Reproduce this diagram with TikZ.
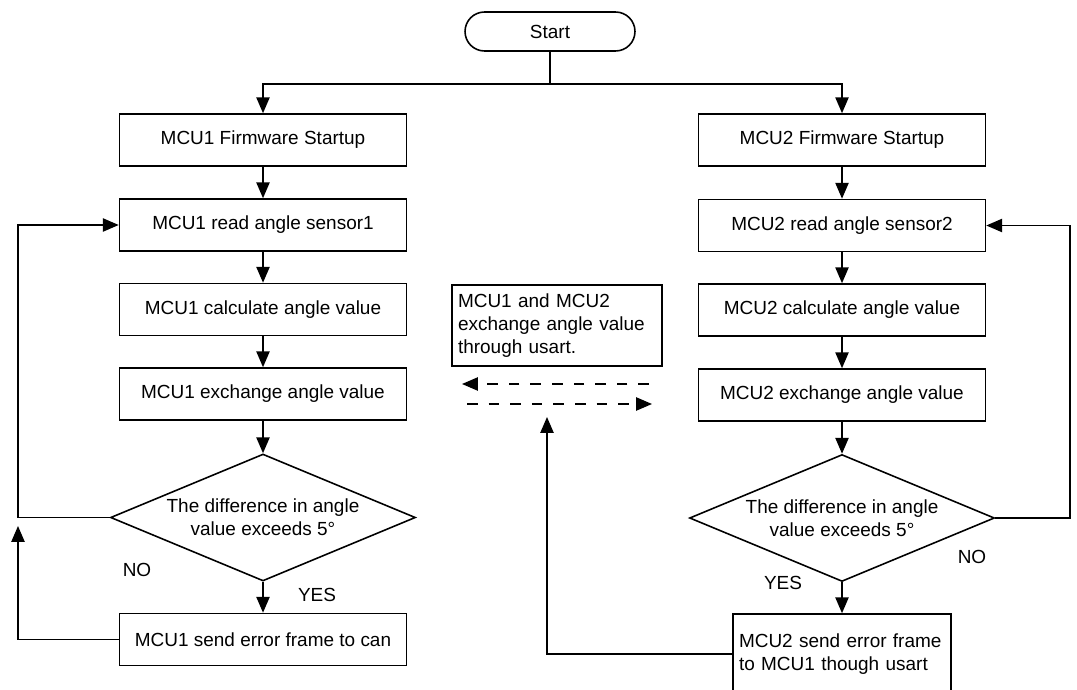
\documentclass[tikz,border=0pt]{standalone}
\usepackage{fontspec}
\setmainfont{Liberation Sans}
\usetikzlibrary{arrows.meta,shapes.geometric}

\begin{document}
\begin{tikzpicture}[x=0.02cm,y=-0.02cm,line width=0.9pt,
  font=\fontsize{10.8}{13}\selectfont,
  >={Triangle[length=9pt,width=7.5pt]},
  stepbox/.style={draw,rectangle,minimum width=5.74cm,minimum height=1.04cm,inner sep=0pt},
  testbox/.style={draw,diamond,aspect=2.4,inner sep=0pt,minimum width=6.1cm,minimum height=2.54cm,align=center},
  notebox/.style={draw,rectangle,align=left,inner xsep=0.12cm},
  usart/.style={->,dash pattern=on 6pt off 6.3pt}]
\def\colL{263}
\def\colR{842}
\useasboundingbox (0,0) rectangle (1077,689);
\clip (0,0) rectangle (1077,689);

\node[draw,rounded corners=0.39cm,minimum width=3.4cm,minimum height=0.78cm] (start) at (550,31.5) {Start};
\coordinate (split) at (550,84);

% MCU1 side
\node[stepbox] (L1) at (\colL,140) {MCU1 Firmware Startup};
\node[stepbox] (L2) at (\colL,225) {MCU1 read angle sensor1};
\node[stepbox] (L3) at (\colL,309.5) {MCU1 calculate angle value};
\node[stepbox] (L4) at (\colL,394) {MCU1 exchange angle value};
\node[testbox] (Ldia) at (\colL,517.5) {The difference in angle\\value exceeds 5°};
\node[stepbox] (L5) at (\colL,639.5) {MCU1 send error frame to can};
\coordinate (lup) at (18,517.5);
\coordinate (lend) at (18,526);
\node (nol) at (137,570) {NO};
\node (yesl) at (317,595) {YES};

% MCU2 side
\node[stepbox] (R1) at (\colR,140) {MCU2 Firmware Startup};
\node[stepbox] (R2) at (\colR,225.5) {MCU2 read angle sensor2};
\node[stepbox] (R3) at (\colR,310) {MCU2 calculate angle value};
\node[stepbox] (R4) at (\colR,395) {MCU2 exchange angle value};
\node[testbox] (Rdia) at (\colR,518) {The difference in angle\\value exceeds 5°};
\node[notebox,text width=4.12cm,minimum height=1.6cm] (R5) at (\colR,654) {MCU2 send error frame\\to MCU1 though usart};
\coordinate (rup) at (1070,518);
\coordinate (mend) at (547,417);
\node (nor) at (972,557) {NO};
\node (yesr) at (783,583) {YES};

% usart exchange
\node[notebox,text width=3.96cm,inner xsep=0.12cm,minimum height=1.62cm] (note) at (557,325.5) {MCU1 and MCU2\\exchange angle value\\through usart.};
\coordinate (ua) at (649,384);
\coordinate (ub) at (462,384);
\coordinate (uc) at (467,404);
\coordinate (ud) at (652,404);

\draw (start) -- (split);
\draw[->] (split) -| (L1.north);
\draw[->] (split) -| (R1.north);

\draw[->] (L1) -- (L2);
\draw[->] (L2) -- (L3);
\draw[->] (L3) -- (L4);
\draw[->] (L4) -- (Ldia);
\draw[->] (Ldia) -- (L5);
\draw[->] (Ldia.west) -- (lup) |- (L2.west);
\draw[->] (L5.west) -| (lend);

\draw[->] (R1) -- (R2);
\draw[->] (R2) -- (R3);
\draw[->] (R3) -- (R4);
\draw[->] (R4) -- (Rdia);
\draw[->] (Rdia) -- (R5);
\draw[->] (Rdia.east) -- (rup) |- (R2.east);
\draw[->] (R5.west) -| (mend);

\draw[usart] (ua) -- (ub);
\draw[usart] (uc) -- (ud);
\end{tikzpicture}
\end{document}
